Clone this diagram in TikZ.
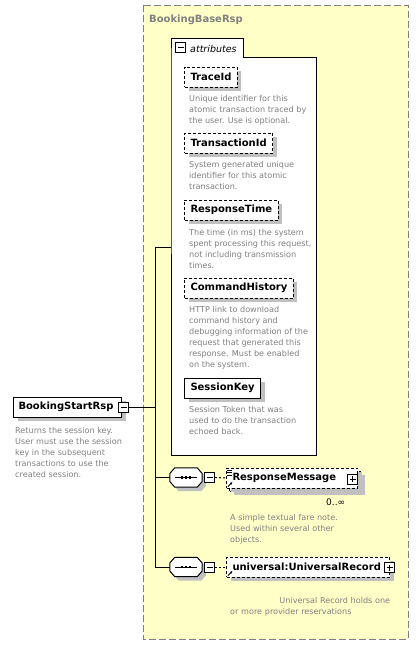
\documentclass[tikz,border=0pt]{standalone}
\usepackage{fontspec}
\setmainfont{DejaVu Sans}
\usetikzlibrary{calc,shadows,positioning,arrows.meta}
\definecolor{basefill}{HTML}{FFFFC8}
\definecolor{notegray}{HTML}{808080}
\definecolor{shadowgray}{HTML}{C0C0C0}
\tikzset{
  elem/.style     = {shape=rectangle, draw, fill=white, line width=1pt,
                     anchor=west, minimum height=20pt,
                     inner xsep=6pt, inner ysep=0pt,
                     font=\fontsize{10}{12}\selectfont\bfseries,
                     drop shadow={shadow xshift=4pt, shadow yshift=-4pt,
                                  fill=shadowgray, opacity=1}},
  optelem/.style  = {elem, dash pattern=on 3pt off 2pt},
  note/.style     = {anchor=north west, inner sep=0pt, align=left,
                     text=notegray, font=\fontsize{8.1}{11}\selectfont},
  seqbox/.style   = {shape=rectangle, inner sep=0pt,
                     minimum width=32pt, minimum height=19pt},
  toggle/.style   = {draw, fill=white, line width=1pt,
                     minimum size=10pt, inner sep=0pt},
  minusbox/.style = {toggle, path picture={
                       \draw[line width=1pt]
                         ([xshift=2pt]path picture bounding box.west) --
                         ([xshift=-2pt]path picture bounding box.east);}},
  plusbox/.style  = {toggle, path picture={
                       \draw[line width=1pt]
                         ([xshift=2pt]path picture bounding box.west) --
                         ([xshift=-2pt]path picture bounding box.east)
                         ([yshift=-2pt]path picture bounding box.north) --
                         ([yshift=2pt]path picture bounding box.south);}},
  link/.style     = {line width=1pt},
  optlink/.style  = {link, dash pattern=on 2pt off 2pt}
}
% octagon of a sequence compositor, with its three dots
\newcommand{\seqmark}[1]{
  \path[draw, fill=white, line width=1pt,
        drop shadow={shadow xshift=4pt, shadow yshift=-4pt, fill=shadowgray, opacity=1}]
    ($(#1.west)+(0,-4)$) -- ($(#1.north west)+(5,0)$) -- ($(#1.north east)+(-5,0)$)
    -- ($(#1.east)+(0,-4)$) -- ($(#1.east)+(0,4)$) -- ($(#1.south east)+(-5,0)$)
    -- ($(#1.south west)+(5,0)$) -- ($(#1.west)+(0,4)$) -- cycle;
  \draw[line width=1pt] ($(#1.center)+(-11,0)$) -- ($(#1.center)+(11,0)$);
  \foreach \dx in {-4,0,4} {
    \fill ($(#1.center)+(\dx,0)$) +(-1.4,-1.4) rectangle +(1.4,1.4);
  }
}
\newcommand{\refmark}[1]{
  \draw[line width=0.8pt, -{Latex[length=2.5pt,width=2.5pt]}]
    ($(#1.south west)+(2,-2)$) -- ++(4.5,-4.5);
}

\begin{document}
\begin{tikzpicture}[x=1pt, y=-1pt]
  \useasboundingbox (0,0) rectangle (418,645);

  % base type frame
  \draw[notegray, line width=1pt, dash pattern=on 7pt off 3pt, fill=basefill]
    (143,5) rectangle (408,639);
  \node[anchor=base west, inner sep=0pt, text=notegray,
        font=\fontsize{10}{12}\selectfont\bfseries] (base-title) at (149,23) {BookingBaseRsp};

  % attributes group
  \draw[line width=1pt, fill=white]
    (171,57) -- (171,38) -- (243,38) -- (243,57) -- (316,57) -- (316,455) -- (171,455) -- cycle;
  \coordinate (attr-in) at (171,247);
  \node[minusbox] (attr-tog) at (180.5,47.5) {};
  \node[anchor=base west, inner sep=0pt, font=\fontsize{9.5}{11}\selectfont\itshape]
    (attr-label) at (190,52) {attributes};

  \node[optelem] (traceid) at (184,77)  {TraceId};
  \node[note] (traceid-note) at (189,95)
    {Unique identifier for this\\atomic transaction traced by\\the user. Use is optional.};

  \node[optelem] (transid) at (184,143) {TransactionId};
  \node[note] (transid-note) at (189,161)
    {System generated unique\\identifier for this atomic\\transaction.};

  \node[optelem] (resptime) at (184,210) {ResponseTime};
  \node[note] (resptime-note) at (189,229)
    {The time (in ms) the system\\spent processing this request,\\not including transmission\\times.};

  \node[optelem] (cmdhist) at (184,288) {CommandHistory};
  \node[note] (cmdhist-note) at (189,306)
    {HTTP link to download\\command history and\\debugging information of the\\request that generated this\\response. Must be enabled\\on the system.};

  \node[elem] (sesskey) at (184,388) {SessionKey};
  \node[note] (sesskey-note) at (189,406)
    {Session Token that was\\used to do the transaction\\echoed back.};

  % root element
  \node[elem, text width=98pt, align=left, inner xsep=5pt] (rsp) at (13,407) {BookingStartRsp};
  \node[minusbox] (rsp-tog) at (123.5,407) {};
  \node[note] (rsp-note) at (15,427)
    {Returns the session key.\\User must use the session\\key in the subsequent\\transactions to use the\\created session.};

  % sequences
  \node[seqbox] (seq-msg) at (186,477.5) {};
  \seqmark{seq-msg}
  \node[minusbox] (seq-msg-tog) at (209.5,477.5) {};

  \node[optelem, text width=119pt, align=left] (msg-back) at (229,481) {};
  \node[optelem, text width=119pt, align=left, drop shadow={opacity=0}] (msg) at (226,478) {ResponseMessage};
  \node[plusbox] (msg-tog) at (352.5,479) {};
  \refmark{msg}
  \foreach \dy in {470,472.5,475} {
    \draw[line width=0.8pt] (227,\dy) -- (232,\dy);
  }
  \node[anchor=base west, inner sep=0pt, font=\fontsize{9}{11}\selectfont] (msg-occ) at (326,505) {0..\char"221E};
  \node[note] (msg-note) at (230,514)
    {A simple textual fare note.\\Used within several other\\objects.};

  \node[seqbox] (seq-rec) at (186,567) {};
  \seqmark{seq-rec}
  \node[minusbox] (seq-rec-tog) at (209.5,567) {};

  \node[optelem, text width=151pt, align=left] (rec) at (226,567) {universal:UniversalRecord};
  \node[plusbox] (rec-tog) at (389.5,567.5) {};
  \refmark{rec}
  \node[note, text width=160pt] (rec-note) at (230,597)
    {\hfill Universal Record holds one\\or more provider reservations};

  % connectors
  \coordinate (spine) at (155,247);
  \draw[link] (attr-in) -- (spine) -- (spine |- seq-rec.west) -- (seq-rec.west);
  \draw[link] (rsp-tog.east) -- (rsp-tog.east -| spine);
  \draw[link] (seq-msg.west) -- (seq-msg.west -| spine);
  \draw[optlink] (seq-msg-tog.east) -- (msg.west);
  \draw[optlink] (seq-rec-tog.east) -- (rec.west);

\end{tikzpicture}
\end{document}
